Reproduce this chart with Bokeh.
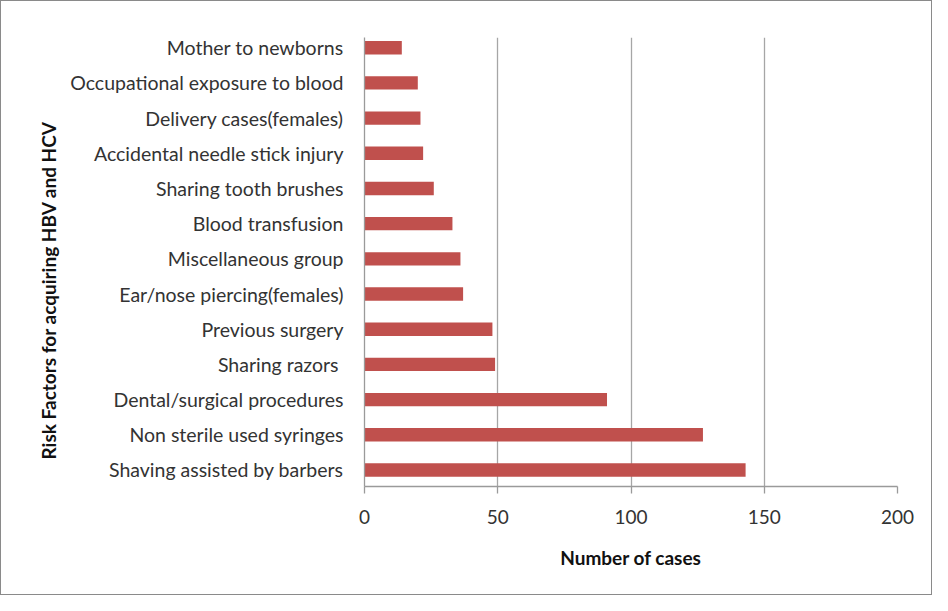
from bokeh.plotting import figure
from bokeh.models import Range1d, FixedTicker, ColumnDataSource, Title
from bokeh.embed import file_html
from bokeh.resources import INLINE

# Data (bottom to top)
categories = [
    "Shaving assisted by barbers",
    "Non sterile used syringes",
    "Dental/surgical procedures",
    "Sharing razors ",
    "Previous surgery",
    "Ear/nose piercing(females)",
    "Miscellaneous group",
    "Blood transfusion",
    "Sharing tooth brushes",
    "Accidental needle stick injury",
    "Delivery cases(females)",
    "Occupational exposure to blood",
    "Mother to newborns",
]
cases = [143, 127, 91, 49, 48, 37, 36, 33, 26, 22, 21, 20, 14]
x_ticks = [0, 50, 100, 150, 200]
y_title = "Risk Factors for acquiring HBV and HCV"
x_title = "Number of cases"

positions = list(range(len(categories)))
source = ColumnDataSource(dict(y=positions, cases=cases, name=categories))

FONT = "Lato"

p = figure(
    width=932, height=595,
    x_range=Range1d(0, 200),
    y_range=Range1d(-0.47, 12.29),
    output_backend="svg", toolbar_location=None,
    min_border_left=363, min_border_right=36,
    min_border_top=36, min_border_bottom=110,
)
p.styles = {"border": "1px solid #8a8a8a", "box-sizing": "border-box"}
p.outline_line_color = None
p.background_fill_color = "white"
p.border_fill_color = "white"

p.hbar(y="y", right="cases", left=0, height=0.38, source=source,
       fill_color="#C0504D", line_color=None)

# x axis
p.xaxis.ticker = FixedTicker(ticks=x_ticks)
p.xaxis.axis_label = x_title
p.xaxis.axis_label_text_font = FONT
p.xaxis.axis_label_text_font_style = "bold"
p.xaxis.axis_label_text_font_size = "19px"
p.xaxis.axis_label_text_color = "#111111"
p.xaxis.axis_label_standoff = 19
p.xaxis.major_label_text_font = FONT
p.xaxis.major_label_text_font_size = "19px"
p.xaxis.major_label_text_color = "#333333"
p.xaxis.major_label_standoff = 16
p.xaxis.major_tick_out = 7
p.xaxis.major_tick_in = 0
p.xaxis.minor_tick_out = 0
p.xaxis.minor_tick_in = 0
p.xaxis.axis_line_color = "#9a9a9a"
p.xaxis.major_tick_line_color = "#9a9a9a"
p.xaxis.axis_line_width = 1.3
p.xaxis.major_tick_line_width = 1.3

# y axis
p.yaxis.ticker = FixedTicker(ticks=positions)
p.yaxis.major_label_overrides = {i: c for i, c in zip(positions, categories)}
p.yaxis.major_label_text_font = FONT
p.yaxis.major_label_text_font_size = "19.5px"
p.yaxis.major_label_text_color = "#333333"
p.yaxis.major_label_standoff = 21
p.yaxis.major_tick_out = 0
p.yaxis.major_tick_in = 0
p.yaxis.minor_tick_out = 0
p.yaxis.minor_tick_in = 0
p.yaxis.axis_line_color = "#9a9a9a"
p.yaxis.axis_line_width = 1.3

# y-axis title as a left-side title, starting a little above the frame bottom
p.add_layout(Title(
    text=y_title, align="left", offset=27, standoff=16,
    text_font=FONT, text_font_style="bold", text_font_size="19px",
    text_color="#111111",
), "left")

# grid
p.xgrid.grid_line_color = "#a6a6a6"
p.xgrid.grid_line_width = 1.3
p.ygrid.grid_line_color = None

open("out.html", "w").write(file_html(p, INLINE))
